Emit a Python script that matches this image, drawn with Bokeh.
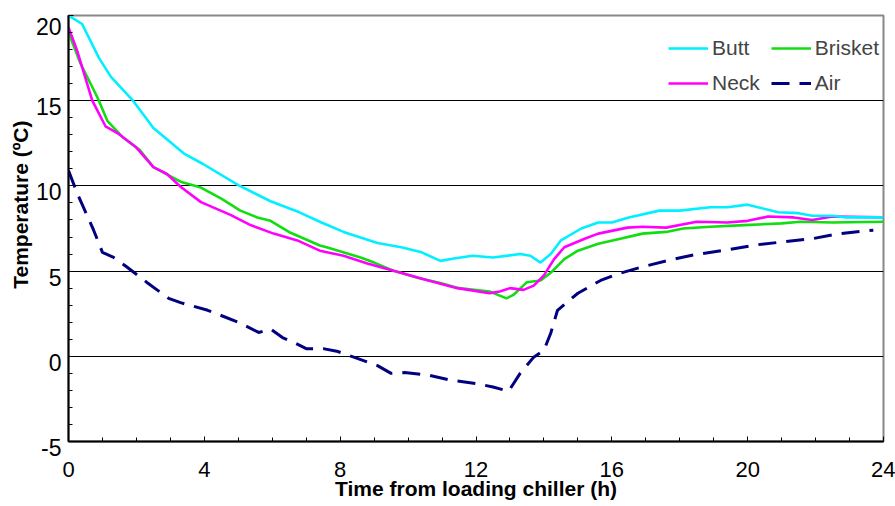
from bokeh.plotting import figure
from bokeh.models import FixedTicker, Legend, LegendItem, Range1d, Title
from bokeh.embed import file_html
from bokeh.resources import INLINE

# ---- data ----
butt_t = [0, 0.4, 0.9, 1.25, 1.9, 2.5, 3.4, 3.95, 5.0, 5.95, 6.8, 7.45, 8.1, 9.1, 9.8, 10.4,
          10.95, 11.4, 11.9, 12.5, 13.3, 13.6, 13.9, 14.2, 14.5, 15.1, 15.6, 16.0, 16.5, 17.4,
          18.0, 18.9, 19.4, 20.0, 20.9, 21.5, 21.9, 22.5, 22.9, 24.0]
butt_T = [20.0, 19.5, 17.5, 16.4, 15.0, 13.4, 11.9, 11.3, 10.05, 9.1, 8.45, 7.85, 7.3, 6.65, 6.4, 6.1,
          5.6, 5.75, 5.9, 5.8, 6.0, 5.9, 5.5, 6.0, 6.8, 7.5, 7.85, 7.85, 8.15, 8.55,
          8.55, 8.75, 8.75, 8.9, 8.45, 8.4, 8.25, 8.25, 8.15, 8.15]

brisket_t = [0, 0.35, 0.85, 1.15, 1.6, 2.1, 2.5, 3.3, 3.9, 4.5, 5.06, 5.56, 5.95, 6.54, 7.4, 7.6,
             8.6, 9.0, 9.6, 10.3, 10.95, 11.5, 12.4, 12.9, 13.1, 13.5, 13.9, 14.2, 14.6, 15.0,
             15.6, 16.25, 16.9, 17.6, 18.1, 18.9, 19.9, 21.0, 21.55, 22.5, 24.0]
brisket_T = [19.0, 17.2, 15.2, 13.8, 12.85, 12.1, 11.1, 10.25, 9.9, 9.25, 8.55, 8.15, 7.95, 7.25, 6.5, 6.4,
             5.8, 5.5, 5.0, 4.6, 4.3, 4.0, 3.8, 3.4, 3.6, 4.35, 4.45, 4.9, 5.7, 6.2,
             6.6, 6.9, 7.2, 7.3, 7.5, 7.6, 7.7, 7.8, 7.9, 7.85, 7.9]

neck_t = [0, 0.26, 0.7, 1.09, 1.44, 2.0, 2.5, 2.9, 3.3, 3.9, 4.77, 5.36, 6.04, 6.74, 7.4, 8.1,
          8.8, 9.6, 10.6, 11.45, 12.4, 12.7, 13.0, 13.4, 13.7, 14.0, 14.3, 14.6, 15.2, 15.6,
          16.46, 16.9, 17.6, 18.5, 19.4, 20.0, 20.6, 21.35, 21.9, 22.5, 24.0]
neck_T = [19.3, 17.9, 15.0, 13.5, 13.1, 12.25, 11.1, 10.7, 9.95, 9.05, 8.3, 7.7, 7.2, 6.8, 6.2, 5.9,
          5.45, 5.0, 4.45, 4.0, 3.7, 3.8, 4.0, 3.9, 4.15, 4.75, 5.7, 6.4, 6.9, 7.2,
          7.55, 7.6, 7.55, 7.9, 7.85, 7.95, 8.2, 8.15, 8.0, 8.2, 8.15]

air_t = [0, 0.26, 0.74, 1.0, 1.33, 1.68, 2.3, 2.95, 3.3, 4.1, 5.0, 5.6, 5.95, 6.3, 6.7, 7.0,
         7.5, 7.9, 8.4, 9.1, 9.5, 9.9, 10.6, 11.25, 12.0, 12.5, 12.96, 13.3, 13.7, 14.0,
         14.2, 14.4, 15.0, 15.4, 15.67, 16.2, 16.9, 17.6, 18.4, 19.4, 20.3, 21.2, 21.9, 22.7, 23.7]
air_T = [10.9, 9.55, 7.4, 6.1, 5.8, 5.3, 4.35, 3.4, 3.15, 2.7, 2.0, 1.4, 1.6, 1.1, 0.75, 0.45,
         0.45, 0.3, -0.05, -0.55, -1.0, -0.95, -1.1, -1.4, -1.6, -1.8, -2.05, -1.0, -0.05, 0.35,
         1.35, 2.7, 3.7, 4.15, 4.45, 4.85, 5.25, 5.6, 5.95, 6.25, 6.55, 6.75, 6.9, 7.2, 7.4]

x_ticks = [0, 4, 8, 12, 16, 20, 24]
y_ticks = [-5, 0, 5, 10, 15, 20]
y_tick_labels = ["-5", "0", "5", "10", "15", "20"]
grid_levels = [0, 5, 10, 15]
series_names = ["Butt", "Brisket", "Neck", "Air"]

FONT = "Liberation Sans"

p = figure(width=895, height=506, x_range=Range1d(0, 24), y_range=Range1d(-5, 20),
           output_backend="svg", toolbar_location=None,
           min_border_left=68, min_border_right=12, min_border_top=15, min_border_bottom=65)
p.background_fill_color = "white"
p.border_fill_color = "white"
p.outline_line_color = "#888888"
p.outline_line_width = 2

p.xgrid.visible = False
p.ygrid.ticker = FixedTicker(ticks=grid_levels)
p.ygrid.grid_line_color = "black"
p.ygrid.grid_line_width = 1

for ax in (p.xaxis[0], p.yaxis[0]):
    ax.axis_line_color = "black"
    ax.axis_line_width = 2
    ax.major_tick_line_color = "black"
    ax.minor_tick_line_color = "black"
    ax.major_tick_in = 5
    ax.major_tick_out = 0
    ax.minor_tick_in = 4
    ax.minor_tick_out = 0
    ax.major_label_text_font = FONT
    ax.major_label_text_color = "black"
    ax.axis_label_text_font = FONT
    ax.axis_label_text_font_style = "bold"
    ax.axis_label_text_color = "black"

p.xaxis.ticker = FixedTicker(ticks=x_ticks, minor_ticks=list(range(0, 25)))
p.yaxis.ticker = FixedTicker(ticks=y_ticks, minor_ticks=list(range(-5, 21)))
# leading blank line pushes each label a little below its tick, as in the reference
p.yaxis.major_label_overrides = {v: "\n" + s for v, s in zip(y_ticks, y_tick_labels)}
p.yaxis.major_label_text_line_height = 0.5
p.xaxis.major_label_text_font_size = "22px"
p.yaxis.major_label_text_font_size = "23px"
p.xaxis.major_label_standoff = 20
p.yaxis.major_label_standoff = 7

p.xaxis.axis_label = "Time from loading chiller (h)"
p.xaxis.axis_label_text_font_size = "21px"
p.xaxis.axis_label_standoff = -3

p.add_layout(Title(text="Temperature (ºC)", align="right", offset=105,
                   text_font=FONT, text_font_size="21px", text_font_style="bold",
                   text_color="black", standoff=2), "left")

r_air = p.line(air_t, air_T, line_color="#000080", line_width=3, line_dash="18 10")
r_brisket = p.line(brisket_t, brisket_T, line_color="#11DD11", line_width=2.6)
r_neck = p.line(neck_t, neck_T, line_color="#FF00FF", line_width=2.6)
r_butt = p.line(butt_t, butt_T, line_color="#00F0FF", line_width=2.6)

renderers = {"Butt": r_butt, "Brisket": r_brisket, "Neck": r_neck, "Air": r_air}
legend = Legend(items=[LegendItem(label=n, renderers=[renderers[n]]) for n in series_names],
                orientation="horizontal", ncols=2,
                location=(600, 346), padding=0, margin=0, spacing=11,
                glyph_width=40, glyph_height=20, label_height=20, label_standoff=4,
                label_text_font=FONT, label_text_font_size="21px",
                border_line_color=None, background_fill_alpha=0)
p.add_layout(legend)

open("out.html", "w").write(file_html(p, INLINE))
